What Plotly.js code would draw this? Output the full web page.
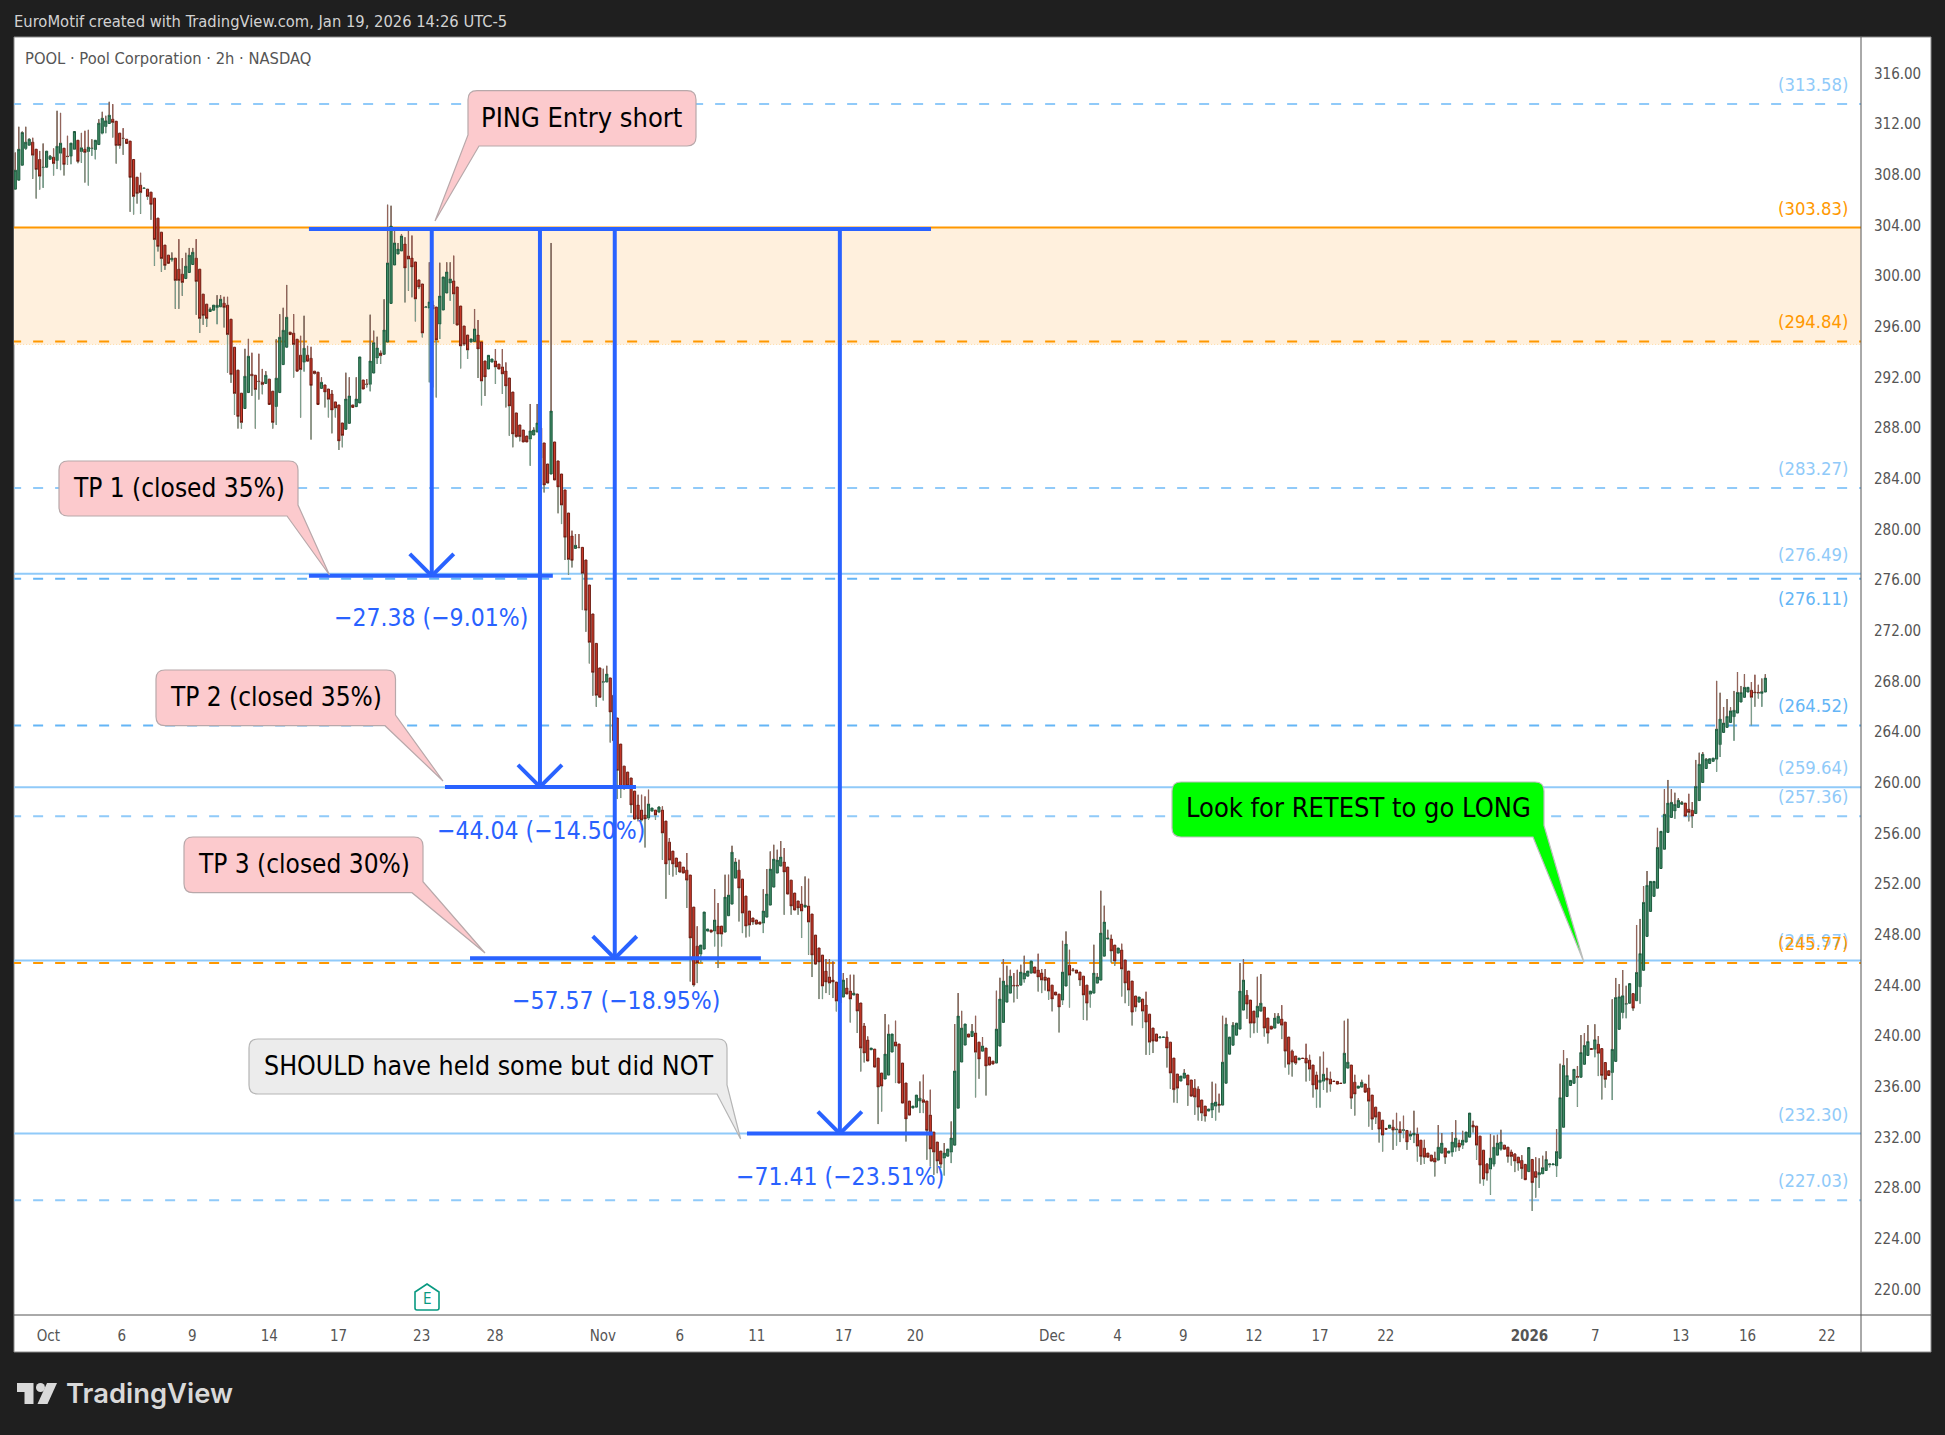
<!DOCTYPE html>
<html><head><meta charset="utf-8">
<script src="https://cdn.plot.ly/plotly-3.0.1.min.js"></script>
<style>html,body{margin:0;padding:0;background:#1f1f1f}</style></head>
<body><div id="chart" style="width:1945px;height:1435px"></div>
<script>
const openP=[
306.86,307.57,308.75,310.07,310.33,310.57,310.01,309.2,308.57,308.59,
309.22,309.38,309.12,309.7,310.09,309.46,309.46,310.01,310.72,309.83,
310.01,309.83,310.07,309.99,310.38,311.28,311.8,312.04,312.38,312.22,
311.28,310.88,310.8,310.65,309.2,307.8,307.17,306.91,306.86,306.62,
306.15,304.57,303.46,302.44,301.65,301.28,301.41,300.54,300.15,299.8,
300.28,300.91,301.41,300.54,298.57,297.78,297.2,297.3,297.51,297.57,
297.86,297.7,296.59,294.38,292.57,290.75,289.54,290.8,292.25,292.17,
291.7,291.62,291.52,291.86,290.91,289.7,290.8,293.01,294.38,295.57,
295.49,295.01,293.75,293.2,293.75,293.51,292.49,292.41,291.13,291.4,
291.08,290.69,290.06,289.82,288.4,287.9,288.37,289.82,289.69,289.98,
291.79,291.47,291.45,292.34,293.53,293.92,293.82,294.79,297.84,300.87,
301.74,301.98,302.53,301.58,301.42,301.11,299.69,299.37,297.53,297.47,
297.71,297.55,296.21,297.32,298.66,299.45,299.61,299.13,297.63,296.05,
295.34,294.79,294.84,295.34,294.79,293.29,292.66,293.21,293.29,293.05,
292.82,292.5,291.95,290.84,289.19,288.24,287.84,287.37,287.13,287.45,
287.69,288,286.82,285.16,284.37,286.9,285.4,284.37,283.11,281.29,
279.48,278.5,278.58,278.58,277.58,275.61,273.32,271,269.06,267.93,
267.95,268.27,266.9,265.11,263.05,261.31,260.84,260.37,259.34,258.24,
257.84,257.45,257.21,257.76,257.84,257.68,257.84,256.97,255.31,254.6,
254.05,253.74,253.34,253.1,252.71,250.18,247.1,246.47,246.87,248.29,
248.37,248.29,248.68,248.68,248.21,249.5,250.42,252.47,253.1,252.39,
251.05,249.87,249.32,249.16,249,248.92,249.39,250.34,251.76,252.87,
253.42,253.74,253.34,252.31,251.29,250.66,250.42,250.18,250.26,249.63,
247.97,246.95,246.39,245.13,244.66,244.42,244.26,243.63,243.08,243.79,
243.55,243.24,243.32,242.61,240.79,239.68,238.92,238.97,238.26,237.08,
236.61,236.92,238.74,239.53,239.37,237.87,236.29,234.87,234.32,234.39,
234.87,234.97,234.87,233.76,232.42,231.63,230.92,230.37,230.52,230.84,
231.39,234.31,237.95,239.29,240.16,239.97,240.24,239.52,238.81,239.05,
238.34,238.02,237.87,239.21,241.08,242.68,243.39,244,244,244.02,
244.5,244.73,244.97,245.45,245.21,244.97,244.66,244.58,244.02,243.47,
243.31,242.84,243.95,245.6,245.23,245.21,245.05,244.73,244.02,243.31,
243.39,244.18,244.42,246.31,247.66,247.66,247.18,246.55,246.79,246,
245.13,244.34,243.16,242.68,242.92,242.45,241.73,240.63,240.16,239.87,
239.89,239.92,239.52,238.26,237,236.45,236.68,236.92,236.53,235.89,
235.81,234.95,234.47,234.08,234.16,234.47,234.63,234.55,236.28,238.57,
239.28,240.07,240.55,242.05,243.23,242.84,241.97,241.49,241.97,242.28,
241.42,240.78,240.63,241.02,241.34,241.1,239.92,238.81,238.42,238.13,
238.26,238.26,238.1,237.71,236.92,236.34,236.44,236.68,236.6,236.44,
236.42,236.28,236.28,237.47,237.71,236.36,235.89,235.97,236.21,235.89,
235.34,234.39,233.99,233.36,232.71,232.73,232.81,232.6,232.63,232.55,
232.55,232.1,232.18,232.26,231.78,231.15,230.76,230.6,230.36,230.21,
230.76,231.15,230.76,230.84,231.23,231.55,231.39,231.63,232.02,232.97,
232.89,232.1,230.99,229.89,229.5,229.89,230.6,231.07,231.39,231.23,
230.84,230.68,230.44,230.18,229.87,229.3,230.26,229.3,229.05,229.13,
229.39,229.84,229.84,229.76,230.35,232.8,235.23,236.1,236.27,236.81,
236.75,237.77,238.47,239.01,238.95,239.35,239.01,237.91,237.26,237.12,
238,240.53,241.86,242.51,242.59,243.35,242.79,243.89,245.19,247.87,
249.84,251.03,251.67,253.23,254.75,256.08,257.26,257.77,258.05,258.3,
258.39,257.91,257.82,257.57,258.59,260.02,261.12,261.52,261.69,261.86,
263.01,263.97,264.37,264.76,265.21,265.5,266.37,266.74,267.16,267.3,
267.16,267.13,267.05,267.16];
const highP=[
309.75,311.78,311.41,311.78,310.86,310.91,310.01,309.88,310.46,309.86,
309.54,310.07,313.04,312.88,310.09,311.07,310.49,311.41,310.72,311.3,
311.46,311.54,310.8,310.72,312.38,312.96,312.65,313.75,313.57,312.22,
311.28,311.67,310.8,310.65,309.2,307.8,308.15,306.96,306.86,306.62,
306.15,304.57,303.46,302.44,301.65,301.86,301.41,302.91,301.41,301.83,
302.22,302.22,302.91,300.54,298.57,297.78,297.51,297.7,298.49,298.49,
298.36,298.36,296.59,294.38,292.57,290.75,294.25,295.04,293.94,292.17,
293.86,292.67,292.49,291.86,290.91,295.01,296.99,297.49,299.3,295.57,
296.99,295.01,295.28,296.86,294.49,294.41,292.49,292.41,292,291.4,
291.08,291,290.06,289.82,288.4,292.37,292,289.82,292,293.61,
291.79,291.87,296.95,295.69,295.21,294.11,298.16,305.63,305.55,303.71,
302.61,303.32,303.06,303.63,303.19,301.11,299.69,299.37,297.61,301.08,
298.05,297.55,301.05,299.92,301.08,301.08,301.61,299.13,297.63,296.05,
295.34,295.03,297.4,296.53,294.79,293.29,293.74,293.45,294.24,293.05,
294.24,293.18,291.95,290.84,289.19,288.24,287.84,287.37,289.9,288.05,
289.9,288.58,286.82,285.16,302.61,286.9,285.4,284.37,283.11,281.29,
279.9,279.63,279.63,278.58,277.58,275.61,273.32,271,269.06,269,
269.23,268.27,266.9,265.11,263.05,261.31,260.84,260.37,259.34,259.05,
259.05,258.92,259.45,258,257.84,258.13,258.13,256.97,255.63,254.6,
254.05,253.74,253.34,254.45,252.71,250.18,248.66,247.18,249.79,248.45,
248.37,251.6,250.5,248.68,252.74,252.74,255.02,254.05,253.92,252.39,
251.05,249.87,249.32,249.16,249,251.6,253.18,254.58,255.1,254.71,
255.39,254.84,253.34,252.31,251.29,250.66,251.82,252.6,252.42,249.63,
247.97,246.95,246.39,246.08,246.08,245.89,244.26,244.97,244.97,244.58,
244.84,244.84,243.32,242.61,241.03,239.97,239.05,238.97,238.26,237.08,
241.74,240.9,240.16,241.21,239.37,237.87,236.29,234.87,234.47,235.34,
236.42,236.95,234.87,235.76,232.42,231.63,230.92,231.55,231.08,233.26,
240.95,243.39,241.99,240.95,240.16,240.95,241.6,239.52,239.92,239.05,
238.34,238.02,243.58,244.6,246.08,245.55,245.23,244.97,245.23,245.63,
246.34,245.13,245.92,245.45,246.5,245.29,245.29,244.58,244.02,243.47,
243.31,247.52,248.26,246.81,245.37,245.21,245.05,244.73,244.02,243.55,
247.21,244.97,251.47,250.29,248.39,248,247.18,246.95,247.29,246,
245.13,244.34,243.16,243.08,242.92,243.5,241.73,240.63,240.16,240,
239.92,240.37,239.52,238.26,237,236.84,237.39,236.92,236.53,236.6,
236.02,234.95,234.47,234.24,236.39,236.24,235.45,241.6,241.44,239.92,
241.1,241.02,245.76,246.07,243.63,242.84,241.97,244.68,244.89,242.28,
241.42,240.78,241.81,241.81,242.44,241.1,239.92,238.92,238.42,238.26,
238.26,239.39,238.52,237.71,237.18,238.39,238.76,237.49,237.18,236.44,
236.42,236.28,241.21,241.36,237.71,236.94,236.05,236.55,236.21,236.94,
235.34,234.39,233.99,233.36,232.71,232.97,233.39,233.94,233.26,233.71,
232.55,232.52,234.1,232.76,231.78,231.81,230.76,230.6,230.86,232.97,
232.34,231.15,230.92,232.42,233.36,231.81,232.52,232.42,233.92,233.31,
232.89,232.1,230.99,229.97,232.26,232.15,232.21,232.6,231.39,231.23,
231.02,230.76,230.44,230.6,229.87,231.2,230.26,230.43,230.35,230.55,
230.91,229.98,229.9,232.66,237.82,238.9,238.25,236.5,237.37,237.62,
240.08,240.22,240.87,239.01,240.93,240,239.01,237.91,237.26,242.9,
244.59,244.11,245.21,243.97,244.14,243.35,248.77,249.25,251.84,253.03,
252.21,252.21,256.44,256.16,259.49,260.22,259.49,259.21,258.78,258.56,
258.39,259.12,258.47,261.8,262.37,262.42,261.94,261.89,261.94,268.04,
267.1,265.98,266.6,265.95,267.25,268.74,267.64,268.57,267.53,267.95,
268.52,267.73,268.23,268.57];
const lowP=[
306.86,307.57,308.75,309.96,310.28,307.67,306.12,306.83,306.96,308.59,
309.2,307.94,308.44,308.36,307.94,308.78,308.83,309.96,308.91,308.94,
307.38,307.15,309.49,309.22,310.38,311.2,311.28,312.04,310.94,308.88,
310.07,309.57,310.46,305.07,304.86,305.72,304.91,306.88,306.04,304.44,
300.8,301.94,300.33,300.49,301,301.15,297.41,297.41,298.44,299.8,
300.28,300.91,296.94,295.51,296.15,295.99,297.2,297.3,296.2,297.57,
295.94,292.38,291.57,289.04,287.96,287.96,289.54,290.8,290.54,287.96,
290.25,290.67,291.52,289.86,287.96,288.25,290.8,293.01,294.38,295.38,
291.99,292.49,288.83,292.46,293.28,287.09,292.25,289.86,291.13,289.63,
288.84,287.58,288.84,286.27,286.48,287.9,288.37,289.63,289.69,289.98,
291.08,291.21,290.9,292.34,293.06,293.06,293.82,294.79,297.84,300.87,
301.74,301.98,297.92,298.84,298.32,296.42,298.97,295.16,297.47,291.61,
291.21,290.42,295.03,297.32,298.66,298.05,296.21,296.13,292.71,294.5,
293.45,294.79,294.84,291.95,289.79,290.53,292.66,293.21,291.48,292.66,
290.69,289.63,287.4,286.48,287.26,286.95,286.9,286.9,285.03,287.45,
287.69,282.53,282.92,283.58,284.37,283.9,281.27,280.42,277.58,276.42,
277,278.5,278.53,273.63,271.92,269.42,266.87,266,266.7,266.5,
267.95,263.18,263.32,258.71,258.79,259.45,259.71,257.6,257.08,256.95,
256.95,254.89,257.08,257.76,257.08,257.6,253.92,250.84,252.74,252.6,
252.74,252.87,252.87,250.11,244.31,243.92,244.18,245.76,246.81,248.21,
248.13,247.08,245.37,247.08,248.21,249.5,250.42,252.47,249.05,248.13,
247.79,247.87,248.79,248.79,248.79,248.13,249.39,250.34,251.76,252.87,
253.42,249.58,251.21,249.58,249.95,249.58,247.74,250.18,246.42,244.66,
245.63,242.92,242.92,243.39,243.26,243,241.95,242.47,243.08,243.32,
241.08,243.24,240.24,237.21,237.92,238.03,238.92,237.55,233.05,234.05,
236.61,236.92,238.74,236.29,236.29,234.71,231.68,233.76,234.32,234.39,
233.92,233.92,230.24,229.71,229.05,229.18,229.58,229,230.5,229.97,
231.39,234.31,237.95,239.29,239.92,239.97,235.16,236.63,238.81,235.31,
237.71,237.79,237.87,239.21,241.08,242.68,243.39,242.66,242.95,244.02,
244.23,244.73,244.97,244.97,243.52,243.39,243.6,242.87,241.95,243.24,
240.29,242.47,243.95,242.26,245.1,244.97,243.97,241.29,241.24,242.26,
243.39,244.18,244.42,246.31,247.66,245.81,245.55,246.55,243.13,242.6,
242.39,240.84,241.95,242.68,240.63,238.52,238.52,238.66,239.6,239.82,
239.89,237.52,235.84,234.76,234.71,236.45,236.68,234.5,235.24,233.79,
233.34,233.31,233.26,234.08,233.53,233.34,233.97,234.55,236.28,238.57,
239.28,240.07,240.55,242.05,241.36,239.89,240.23,240.28,241.97,239.97,
239.42,240.55,240.63,241.02,239.76,237.52,236.97,236.81,237.73,238.13,
238.23,236.42,236.49,235.15,234.36,234.36,235.76,235.55,235.63,236.42,
236.21,236.26,236.28,237.47,234.26,233.73,235.89,235.97,235.57,232.86,
232.6,233.07,231.6,230.89,232.65,232.73,231.02,231.36,231.63,231.94,
231.02,231.81,231.55,230.1,229.84,229.92,230.44,230.13,228.92,230.13,
230.76,229.92,230.76,230.49,230.89,230.94,231.1,231.63,232.02,232.39,
230.23,228.36,228.21,228.6,227.47,229.71,230.6,230.97,231.07,230.02,
229.78,229.26,229.39,228.74,228.66,229.3,226.2,227.25,228.01,229.13,
229.39,229.64,229.84,228.88,230.35,232.8,235.23,236.1,236.27,234.41,
236.75,237.77,238.47,238.95,238.33,236.84,235,235.93,236.89,234.95,
238,240.53,241.41,241.41,242.59,242,242.79,242.56,245.19,247.87,
249.84,251.03,251.67,253.23,254.75,256.08,257.26,257.15,258.05,258.28,
257.37,256.95,256.44,257.57,258.59,260.02,261.12,261.52,261.69,260.87,
262.03,263.97,264.37,264.76,263.32,265.5,266.37,266.74,267.16,264.54,
266,266.65,266,267.16];
const closeP=[
308.36,310.01,311.33,310.57,310.8,309.54,308.41,307.88,308.59,309.86,
309.46,308.88,310.25,310.49,308.8,309.43,310.49,311.41,309.04,310.12,
309.75,310.17,310.09,310.72,312.07,312.46,312.25,312.7,312.12,310.3,
310.3,310.86,310.46,307.78,306.28,306.51,306.59,306.94,306.28,305.65,
302.88,302.33,301.38,300.83,301,301.41,299.65,299.65,299.49,300.78,
301.65,301.88,299.57,296.65,296.88,296.65,297.38,297.7,297.7,298.17,
297.51,295.38,292.22,290.73,288.91,288.44,292.09,293.67,292.12,291.04,
291.67,291.43,292.17,289.86,288.44,291.94,295.17,295.72,296.75,295.38,
294.59,292.49,292.62,294.3,293.28,291.36,292.3,289.86,291.61,290.84,
290.27,289.42,289.58,286.98,287.42,290.29,290.53,289.63,290.29,293.61,
291.08,291.45,293.29,294.74,294.32,293.71,295.74,301.03,303.95,302.61,
302.13,303.16,300.63,301.34,300.71,298.19,299.13,295.5,297.55,297.95,
297.4,294.95,298.42,299.92,300.32,299.77,298.58,296.13,294.48,294.61,
294.16,295.03,295.82,294.24,291.71,292.03,293.74,293.45,292.82,292.66,
292.27,291.32,289.74,287.53,287.32,287.32,286.9,286.9,287.77,287.84,
288.4,285.63,283.5,283.66,289.34,283.9,283.34,281.92,279.37,277.63,
277.55,278.74,278.56,276.53,273.61,271.08,268.71,266.9,266.74,267.97,
268.58,265.58,263.32,260.97,259.66,259.66,259.74,258.24,257.13,257.13,
257.05,257.13,258.32,258,257.45,258.08,256.03,253.58,253.89,253.58,
253.34,252.95,252.87,252.31,247.74,244.03,245.76,247.18,249.79,248.45,
248.21,249.16,248.05,248.05,250.97,251.13,254.52,253.74,251.68,249.71,
248.68,248.76,249,248.84,248.84,249.87,251.21,253.18,253.97,253.89,
254.13,252.95,251.21,250.26,249.95,250.11,249.87,250.34,249,246.39,
245.68,245.84,243.95,244.26,244.18,244.26,242.76,242.61,244.42,243.32,
242.92,243.39,241.97,239.05,238.66,238.03,239.05,237.55,235.97,236.05,
238.58,240.16,240.16,239.21,236.29,234.71,233.45,233.76,234.47,235.34,
235.1,234.76,232.55,231.08,230.84,230.13,229.89,230.76,231.08,231.95,
237.24,241.58,240.63,240.95,239.92,240.39,238.73,238.18,239.21,237.63,
237.71,237.79,240.55,242.92,244.34,244.02,244.73,243.95,243.95,245.05,
244.97,245.13,245.92,244.97,244.66,244.42,244.39,243.55,242.92,243.24,
242.29,245.05,247.26,244.81,245.18,244.97,244.42,243.24,242.6,243.55,
244.97,244.66,248.13,249,247.74,246.71,245.92,246.95,245.29,244.18,
243.63,241.89,242.29,243.08,241.97,241.1,239.52,239.6,239.6,239.92,
239.92,239.05,237.08,235.76,235.89,236.84,237.08,236.13,235.26,235.18,
234.39,233.92,233.68,234.24,234.71,234.79,234.52,237.94,240.94,239.92,
240.86,241.02,243.55,244.42,242.52,241.02,241.02,242.36,242.6,240.63,
240.23,240.55,241.42,241.57,240.86,238.81,237.78,237.94,237.86,238.26,
238.23,237.86,237.39,236.13,235.81,236.52,236.99,236.52,236.21,236.42,
236.21,236.26,238.65,237.94,235.1,235.42,236.05,236.36,235.57,234.86,
233.44,233.6,232.65,232.18,232.65,232.97,232.57,232.65,232.34,232.6,
231.63,232.26,232.34,231.31,230.49,230.44,230.44,230.13,230.05,231.23,
231.55,230.44,230.92,231.63,231.94,231.23,231.78,232.42,233.92,232.81,
231.39,229.81,228.71,229.18,230.36,231.23,231.55,231.63,231.07,230.49,
230.49,230.13,229.97,229.53,228.66,231.2,228.43,228.83,229.22,229.61,
230.26,229.9,229.9,230.88,235.14,237.68,236.89,236.5,237.37,236.75,
238.7,239.26,239.57,238.95,239.71,238.64,236.89,236.58,236.89,238.95,
243.04,243.1,243.18,242.56,244.14,242.2,245.02,246.51,250.55,251.9,
252.21,252.21,254.89,256.16,257.51,258.39,258.45,258.3,258.61,258.44,
257.37,257.65,257.37,259.71,261.46,262.25,261.86,261.89,261.94,264.23,
265.02,264.71,265.24,265.67,265.72,267.13,267.13,267.53,267.53,266.74,
267.1,267.08,267.19,268.26];

const priceTicks=[220,224,228,232,236,240,244,248,252,256,260,264,268,272,276,280,284,288,292,296,300,304,308,312,316];
const timeTickBars=[9.5,30.6,50.9,73,92.9,116.8,137.9,168.9,191,213.1,238.1,258.7,298,316.8,335.7,356,375,393.9,435.2,454.1,478.7,497.9,520.7];
const timeTickText=['Oct','6','9','14','17','23','28','Nov','6','11','17','20','Dec','4','9','12','17','22','<b>2026</b>','7','13','16','22'];

const solidBlueLevels=[276.49,259.64,245.97,232.30];
const dashedBlueLevels=[313.58,283.27,276.11,264.52,257.36,227.03];
const orangeTop=303.83, orangeDashedLevels=[294.84,245.77], bandBottom=294.6;

const entryPrice=303.71;
const targetDrops=[27.38,44.04,57.57,71.41];
const targetPct=[9.01,14.50,18.95,23.51];
const targetBars=[119.7,150.8,172.3,237];
const targetFrom=[84.4,123.5,130.7,210.3];
const targetTo=[154.5,178.4,214.3,263.7];
const topLineBars=[84.4,263.2];

const W=1945,H=1435,L=14,R=1861,T=37,B=1315;
const px=x=>(x-L)/(R-L), py=y=>(B-y)/(B-T);
const FONT='"DejaVu Sans Condensed","DejaVu Sans",sans-serif';
const BLUE='#2962ff',LB='#90caf9',LB2='#64b5f6',OR='#ff9800';

const xRangeLeft=-0.374,xRangeRight=530.5;
const bars=openP.map((_,i)=>i);
const upX=[],upY=[],dnX=[],dnY=[];
bars.forEach(i=>{
  const top=Math.max(openP[i],closeP[i]),bot=Math.min(openP[i],closeP[i]);
  upX.push(i,i,null);upY.push(top,highP[i],null);
  dnX.push(i,i,null);dnY.push(bot,lowP[i],null);
});

const traces=[
 {type:'candlestick',x:bars,open:openP,high:highP,low:lowP,close:closeP,showlegend:false,hoverinfo:'skip',whiskerwidth:0,
  increasing:{line:{color:'#1d5a3e',width:1},fillcolor:'#3d8a64'},
  decreasing:{line:{color:'#6d1c12',width:1},fillcolor:'#cc3a2b'}},
 {type:'scatter',mode:'lines',x:upX,y:upY,line:{color:'#93645b',width:1.3},showlegend:false,hoverinfo:'skip'},
 {type:'scatter',mode:'lines',x:dnX,y:dnY,line:{color:'#7d9e8d',width:1.3},showlegend:false,hoverinfo:'skip'}
];

const shapes=[];
shapes.push({type:'rect',xref:'paper',yref:'paper',x0:px(14),x1:px(1931),y0:py(37),y1:py(1352),fillcolor:'#ffffff',line:{color:'#8c8c8c',width:1},layer:'below'});
shapes.push({type:'rect',xref:'x',yref:'y',x0:xRangeLeft,x1:xRangeRight,y0:bandBottom,y1:orangeTop,fillcolor:'#fff0dd',line:{width:0},layer:'below'});
const hl=(y,color,dash,width)=>shapes.push({type:'line',xref:'x',yref:'y',x0:-1.2,x1:xRangeRight,y0:y,y1:y,line:{color,width:width||2,dash:dash||'solid'},layer:'below'});
hl(bandBottom,'#ffd9a0','1px,2px',1);
solidBlueLevels.forEach(v=>hl(v,LB));
dashedBlueLevels.forEach(v=>hl(v,(v===276.11||v===264.52)?LB2:LB,'10px,12px'));
hl(orangeTop,OR);
orangeDashedLevels.forEach(v=>hl(v,OR,'10px,12px'));

shapes.push({type:'line',xref:'paper',yref:'paper',x0:px(1861),x1:px(1861),y0:py(37),y1:py(1352),line:{color:'#555',width:1}});
shapes.push({type:'line',xref:'paper',yref:'paper',x0:px(14),x1:px(1931),y0:py(1315),y1:py(1315),line:{color:'#555',width:1}});

// blue measuring tools
const bl=(x0,y0,x1,y1)=>shapes.push({type:'line',xref:'x',yref:'y',x0,y0,x1,y1,line:{color:BLUE,width:4}});
bl(topLineBars[0],entryPrice,topLineBars[1],entryPrice);
targetDrops.forEach((d,k)=>{
  const y=entryPrice-d,x=targetBars[k];
  bl(targetFrom[k],y,targetTo[k],y);
  bl(x,entryPrice,x,y);
  bl(x-6.32,y+1.74,x,y);
  bl(x+6.32,y+1.74,x,y);
});

// callouts
function callout(x0,y0,x1,y1,tip,pA,pB,fill,border,leftPointer){
  const r=9,P=(x,y)=>px(x)+','+py(y);
  let d='M'+P(x0+r,y0)+' L'+P(x1-r,y0)+' Q'+P(x1,y0)+' '+P(x1,y0+r);
  if(leftPointer){
    d+=' L'+P(x1,y1-r)+' Q'+P(x1,y1)+' '+P(x1-r,y1)+' L'+P(pB[0],pB[1])+' L'+P(tip[0],tip[1])+' L'+P(pA[0],pA[1]);
    d+=' L'+P(x0,y0+r)+' Q'+P(x0,y0)+' '+P(x0+r,y0)+' Z';
  }else{
    d+=' L'+P(pA[0],pA[1])+' L'+P(tip[0],tip[1])+' L'+P(pB[0],pB[1])+' L'+P(x0+r,y1)+' Q'+P(x0,y1)+' '+P(x0,y1-r);
    d+=' L'+P(x0,y0+r)+' Q'+P(x0,y0)+' '+P(x0+r,y0)+' Z';
  }
  shapes.push({type:'path',xref:'paper',yref:'paper',path:d,fillcolor:fill,line:{color:border,width:1.2}});
}
const PINK='#fccacd',PB='#b8a8aa';
callout(468,90.7,696,146,[435,221],[468,135],[479,146],PINK,PB,true);
callout(59,461,298,516,[329.5,575],[298,505],[287,516],PINK,PB);
callout(156,670,395.5,725.7,[443,781],[395.5,715],[385,725.7],PINK,PB);
callout(184,837,423,892.7,[485,953],[423,881.7],[412,892.7],PINK,PB);
callout(249,1039,727,1094,[740.6,1139],[727,1085],[717,1094],'#ececec','#b5b5b5');
callout(1172,782,1544,837,[1584,962.5],[1544,825.5],[1533,837],'#00ff00','#bdbdbd');

// earnings marker
const P=(x,y)=>px(x)+','+py(y);
shapes.push({type:'path',xref:'paper',yref:'paper',path:'M'+P(427,1284)+' L'+P(439,1292)+' L'+P(439,1308)+' Q'+P(439,1310)+' '+P(437,1310)+' L'+P(417,1310)+' Q'+P(415,1310)+' '+P(415,1308)+' L'+P(415,1292)+' Z',fillcolor:'#ffffff',line:{color:'#089981',width:1.6}});

// logo
const LOGO='#d9d9d9';
shapes.push({type:'path',xref:'paper',yref:'paper',path:'M'+P(17,1383)+' L'+P(33.5,1383)+' L'+P(33.5,1404)+' L'+P(24.5,1404)+' L'+P(24.5,1392)+' L'+P(17,1392)+' Z',fillcolor:LOGO,line:{width:0}});
shapes.push({type:'circle',xref:'paper',yref:'paper',x0:px(36),x1:px(45),y0:py(1383),y1:py(1392),fillcolor:LOGO,line:{width:0}});
shapes.push({type:'path',xref:'paper',yref:'paper',path:'M'+P(47,1383)+' L'+P(57,1383)+' L'+P(47.5,1404)+' L'+P(37.5,1404)+' Z',fillcolor:LOGO,line:{width:0}});

const ann=[];
const pxText=(text,x,y,size,color,anchor,extra)=>ann.push(Object.assign({text,xref:'paper',yref:'paper',x:px(x),y:py(y),xanchor:anchor||'center',yanchor:'middle',showarrow:false,font:{family:FONT,size,color}},extra||{}));
pxText('EuroMotif created with TradingView.com, Jan 19, 2026 14:26 UTC-5',11.5,21,16.4,'#d2d2d2','left');
pxText('POOL · Pool Corporation · 2h · NASDAQ',22.5,58,16.4,'#555555','left');
pxText('PING Entry short',581.5,117,27,'#000000');
pxText('TP 1 (closed 35%)',178.5,488,26,'#000000');
pxText('TP 2 (closed 35%)',276,697,26,'#000000');
pxText('TP 3 (closed 30%)',304,864,26,'#000000');
pxText('SHOULD have held some but did NOT',488,1065.5,26.5,'#000000');
pxText('Look for RETEST to go LONG',1358,808,27,'#000000');
pxText('E',427,1299,15,'#089981');
ann.push({text:'TradingView',xref:'paper',yref:'paper',x:px(64),y:py(1393),xanchor:'left',yanchor:'middle',showarrow:false,font:{family:'Inter, "Noto Sans", sans-serif',size:27.4,color:'#d9d9d9',weight:600}});

const labelY=[617,830,1000,1176];
targetDrops.forEach((d,k)=>pxText('\u2212'+d.toFixed(2)+' (\u2212'+targetPct[k].toFixed(2)+'%)',[431,540.8,616,840][k],labelY[k],24.5,BLUE));

const levelLabel=(v,color,shift)=>ann.push({text:'('+v.toFixed(2)+')',xref:'paper',yref:'y',x:px(1849.5),y:v,yshift:shift,xanchor:'right',yanchor:'middle',showarrow:false,font:{family:FONT,size:18.3,color}});
solidBlueLevels.forEach(v=>levelLabel(v,LB,19.5));
dashedBlueLevels.forEach(v=>levelLabel(v,v===264.52?LB2:(v===276.11?LB2:LB),v===276.11?-19.5:19.5));
levelLabel(orangeTop,OR,19.5);
orangeDashedLevels.forEach(v=>levelLabel(v,OR,19.5));

const layout={
 width:W,height:H,autosize:false,margin:{l:L,r:W-R,t:T,b:H-B,pad:0,autoexpand:false},
 paper_bgcolor:'#1f1f1f',plot_bgcolor:'#ffffff',showlegend:false,dragmode:false,hovermode:false,
 boxgap:0.22,boxgroupgap:0.22,
 xaxis:{type:'linear',range:[xRangeLeft,xRangeRight],rangeslider:{visible:false},tickmode:'array',tickvals:timeTickBars,ticktext:timeTickText,showgrid:false,zeroline:false,showline:false,ticks:'outside',ticklen:6.5,tickcolor:'rgba(0,0,0,0)',tickfont:{family:FONT,size:15,color:'#555'},automargin:false,tickangle:0},
 yaxis:{side:'right',range:[217.98,318.87],tickmode:'array',tickvals:priceTicks,ticktext:priceTicks.map(v=>v.toFixed(2)),showgrid:false,zeroline:false,showline:false,ticks:'outside',ticklen:9,tickcolor:'rgba(0,0,0,0)',tickfont:{family:FONT,size:15,color:'#555'},automargin:false},
 shapes,annotations:ann
};
Plotly.newPlot('chart',traces,layout,{displayModeBar:false,staticPlot:true});
</script></body></html>
